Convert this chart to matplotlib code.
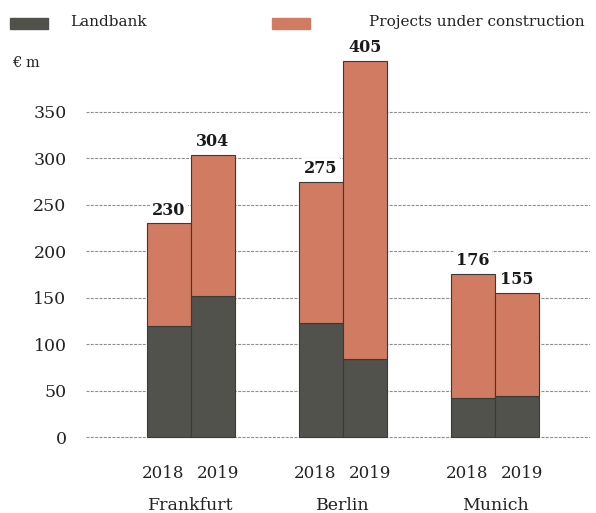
import matplotlib
matplotlib.use("Agg")
import matplotlib.pyplot as plt
import matplotlib.transforms as mtransforms
from matplotlib.patches import Rectangle
import numpy as np

cities = ["Frankfurt", "Berlin", "Munich"]
years = ["2018", "2019"]
landbank = [[120, 152], [123, 84], [42, 44]]
totals = [[230, 304], [275, 405], [176, 155]]
yticks = [0, 50, 100, 150, 200, 250, 300, 350]
series_names = ["Landbank", "Projects under construction"]
unit_label = "€ m"

c_land = "#51524c"
c_proj = "#d17b62"
c_edge = "#3a3a37"
font = "DejaVu Serif"
plt.rcParams["font.family"] = [font]

W, H = 596, 513
fig = plt.figure(figsize=(W / 100, H / 100), dpi=100)
# y=0 at pixel 437, 0.9286 px per unit
ylo, yhi = -2, 420
ppu = 325 / 350
ax = fig.add_axes([86 / W, (H - 437 - (-ylo) * ppu) / H, 504 / W, (yhi - ylo) * ppu / H])

bw = 44 / 152
land = np.array(landbank, dtype=float)
tot = np.array(totals, dtype=float)
proj = tot - land

xpos = []
for gi in range(len(cities)):
    for yi in range(len(years)):
        x = gi + (yi - 0.5) * bw
        xpos.append(x)
        ax.bar(x, land[gi, yi], width=bw, color=c_land, edgecolor=c_edge, linewidth=0.8, zorder=3)
        ax.bar(x, proj[gi, yi], bottom=land[gi, yi], width=bw, color=c_proj, edgecolor=c_edge, linewidth=0.8, zorder=3)
        ax.annotate(f"{int(tot[gi, yi])}", (x, tot[gi, yi]), xytext=(0, 3.5), textcoords="offset points",
                    ha="center", va="bottom", fontsize=11.5, fontweight="bold", color="#1a1a1a", zorder=5,
                    bbox=dict(facecolor="white", edgecolor="none", pad=1.5))

ax.set_xlim(-105 / 152, 2 + 95 / 152)
ax.set_ylim(ylo, yhi)
ax.set_yticks(yticks)
ax.set_yticklabels([str(v) for v in yticks], fontsize=12.5, color="#222222")
ax.yaxis.grid(True, linestyle=(0, (2.6, 1.3)), color="#8c8c8c", linewidth=0.8, zorder=0)
ax.set_axisbelow(True)
ax.tick_params(axis="y", length=0, pad=14)
ax.set_xticks(xpos)
ax.set_xticklabels(years * len(cities), fontsize=12, color="#222222")
ax.tick_params(axis="x", length=0, pad=19)
for i, lbl in enumerate(ax.get_xticklabels()):
    dx = -6 if i % 2 == 0 else 5.5
    lbl.set_transform(lbl.get_transform() + mtransforms.ScaledTranslation(dx / 100, 0, fig.dpi_scale_trans))
for s in ax.spines.values():
    s.set_visible(False)

for gi, c in enumerate(cities):
    ax.annotate(c, (gi, 0), xytext=(0, -68), textcoords="offset pixels", ha="center", va="center",
                fontsize=12.5, color="#222222", annotation_clip=False)

# legend
fig.add_artist(Rectangle((10 / W, 1 - 29 / H), 38 / W, 11 / H, transform=fig.transFigure, color=c_land))
fig.text(70 / W, 1 - 22 / H, series_names[0], fontsize=11, va="center", ha="left", color="#222222")
fig.add_artist(Rectangle((272 / W, 1 - 29 / H), 38 / W, 11 / H, transform=fig.transFigure, color=c_proj))
fig.text(369 / W, 1 - 22 / H, series_names[1], fontsize=11, va="center", ha="left", color="#222222")
fig.text(12 / W, 1 - 63 / H, unit_label, fontsize=10.5, va="center", ha="left", color="#222222")

fig.savefig("out.png", dpi=100)
